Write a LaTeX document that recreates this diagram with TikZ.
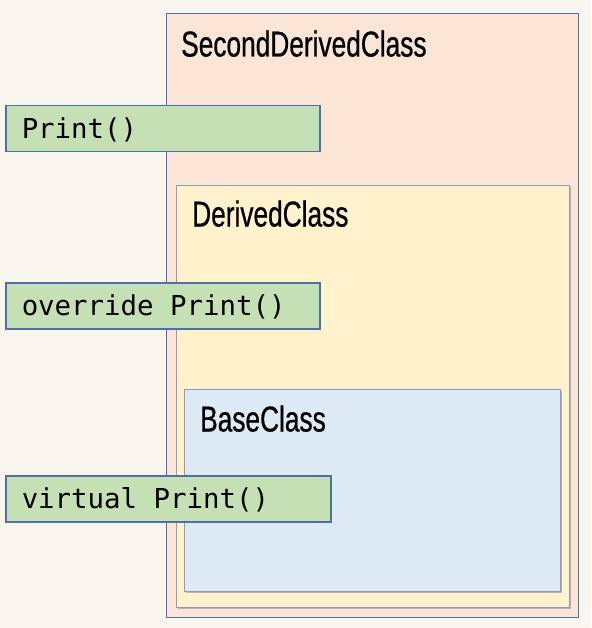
\documentclass[tikz,border=0pt]{standalone}
\usepackage{fontspec}
\usepackage{tikz}
\usetikzlibrary{shadows}
\setmainfont{Liberation Sans}
\newfontfamily\classfont[FakeStretch=0.73,FakeBold=0.6]{Liberation Sans}
\newfontfamily\codefont{DejaVu Sans Mono}
\definecolor{paper}{HTML}{F8F5EF}
\definecolor{frameblue}{HTML}{4F6FA8}
\definecolor{innerframe}{HTML}{8A9CB8}
\definecolor{secondfill}{HTML}{FBE5D6}
\definecolor{derivedfill}{HTML}{FFF2CC}
\definecolor{basefill}{HTML}{DEEBF7}
\definecolor{methodfill}{HTML}{C5E0B4}

\begin{document}
\begin{tikzpicture}[x=1pt, y=-1pt]
                \tikzstyle{classbox}=[draw=innerframe, line width=1.2pt, anchor=north west, inner sep=0pt]
                \tikzstyle{title}=[anchor=base west, inner sep=0pt, font=\classfont\fontsize{36}{40}\selectfont]
                \tikzstyle{method}=[draw=frameblue, line width=1.5pt, fill=methodfill, anchor=north west,
                  minimum height=46pt, inner xsep=16pt, text height=19.8pt, text depth=0pt,
                  font=\codefont\fontsize{27.4}{30}\selectfont]

                \fill[paper] (0,0) rectangle (591,628);
                \useasboundingbox (0,0) rectangle (591,628);

                \node[classbox, draw=frameblue, fill=secondfill, minimum width=412pt, minimum height=604pt] (second) at (166,13) {};
                \node[classbox, fill=derivedfill, minimum width=393pt, minimum height=422pt,
                  drop shadow={shadow xshift=1.2pt, shadow yshift=-1.2pt, fill=gray!70, opacity=0.8}] (derived) at (176,185) {};
                \node[classbox, fill=basefill, minimum width=376pt, minimum height=202pt,
                  drop shadow={shadow xshift=1.5pt, shadow yshift=-1.5pt, fill=gray!70, opacity=0.8}] (base) at (184,389) {};

                \node[title] (secondname) at (181,56.5) {SecondDerivedClass};
                \node[title] (derivedname) at (192,226.5) {DerivedClass};
                \node[title] (basename) at (200,431.5) {BaseClass};

                \foreach \name/\y/\w/\txt in {print/105/314/Print(), override/282/314/override Print(), virtual/475/325/virtual Print()}
                \node[method, minimum width=\w pt, text width=\w pt-32pt] (\name) at (5,\y) {\spaceskip=0.602em\xspaceskip=0.602em\relax\txt};
            \end{tikzpicture}
\end{document}
